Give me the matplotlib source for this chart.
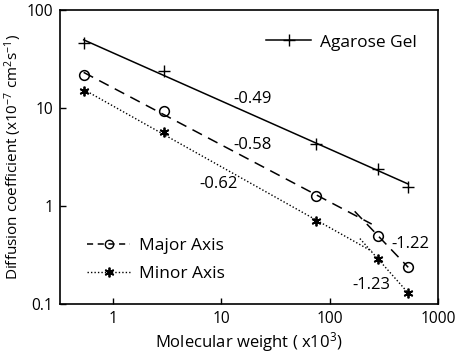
import numpy as np
import matplotlib
matplotlib.use("Agg")
import matplotlib.pyplot as plt
from matplotlib.ticker import FixedLocator, FixedFormatter, NullLocator

plt.rcParams['font.family'] = ['Open Sans', 'DejaVu Sans']
plt.rcParams['mathtext.fontset'] = 'custom'
plt.rcParams['mathtext.rm'] = 'Open Sans'
plt.rcParams['mathtext.default'] = 'regular'

# data
mw = [0.54, 3.0, 75, 280, 530]
agarose = [45.8, 23.6, 4.33, 2.4, 1.57]
major = [21.8, 9.24, 1.26, 0.494, 0.236]
minor = [14.8, 5.65, 0.703, 0.286, 0.129]

slope_labels = ["-0.49", "-0.58", "-0.62", "-1.22", "-1.23"]
label_x = [19.6, 19.6, 9.4, 560, 244]
label_y = [12.2, 4.14, 1.66, 0.407, 0.156]
xticks = [1, 10, 100, 1000]
yticks = [0.1, 1, 10, 100]


def fit_line(x, y, x0, x1):
    p = np.polyfit(np.log10(x), np.log10(y), 1)
    xs = np.array([x0, x1])
    return xs, 10 ** np.polyval(p, np.log10(xs))


fig = plt.figure(figsize=(4.55, 3.55), dpi=100)
ax = fig.add_axes([0.132, 0.144, 0.831, 0.828])
ax.set_xscale('log')
ax.set_yscale('log')

star = (6, 2, 0)  # asterisk marker

# agarose gel: single fit through all points
xs, ys = fit_line(mw, agarose, mw[0], mw[-1])
ax.plot(xs, ys, color='black', lw=1.1)
ax.plot(mw, agarose, ls='none', marker='+', ms=8, mew=1.0, color='black')

# major axis: two fitted segments
xs, ys = fit_line(mw[:3], major[:3], mw[0], 244)
ax.plot(xs, ys, color='black', lw=1.1, ls=(0, (7, 4.5)))
xs, ys = fit_line(mw[3:], major[3:], 170, mw[-1])
ax.plot(xs, ys, color='black', lw=1.1, ls=(0, (7, 4.5)))
ax.plot(mw, major, ls='none', marker='o', ms=7, mfc='none', mec='black', mew=1.1)

# minor axis: two fitted segments
xs, ys = fit_line(mw[:3], minor[:3], mw[0], 244)
ax.plot(xs, ys, color='black', lw=1.0, ls=(0, (1, 1.5)))
xs, ys = fit_line(mw[3:], minor[3:], 190, mw[-1])
ax.plot(xs, ys, color='black', lw=1.0, ls=(0, (1, 1.5)))
ax.plot(mw, minor, ls='none', marker=star, ms=7, mew=1.3, color='black')

# slope labels
for t, x, y in zip(slope_labels, label_x, label_y):
    ax.text(x, y, t, fontsize=12, ha='center', va='center')

# legends
h_ag, = ax.plot([], [], color='black', lw=1.1, marker='+', ms=8, mew=1.0)
h_maj, = ax.plot([], [], color='black', lw=1.1, ls=(0, (4, 3)), marker='o', ms=6,
                 mfc='none', mec='black')
h_min, = ax.plot([], [], color='black', lw=1.0, ls=(0, (1, 1.5)), marker=star,
                 ms=7, mew=1.3)
leg1 = ax.legend([h_ag], ['Agarose Gel'], loc='upper right', frameon=False,
                 fontsize=12.5, handlelength=2.6, handletextpad=0.5,
                 bbox_to_anchor=(0.985, 0.97))
ax.add_artist(leg1)
ax.legend([h_maj, h_min], ['Major Axis', 'Minor Axis'], loc='lower left',
          frameon=False, fontsize=12.5, handlelength=2.5, handletextpad=0.5,
          labelspacing=0.7, bbox_to_anchor=(0.03, 0.02))

ax.set_xlim(10 ** -0.485, 1000)
ax.set_ylim(0.1, 100)
ax.xaxis.set_major_locator(FixedLocator(xticks))
ax.xaxis.set_major_formatter(FixedFormatter([str(t) for t in xticks]))
ax.yaxis.set_major_locator(FixedLocator(yticks))
ax.yaxis.set_major_formatter(FixedFormatter([str(t) for t in yticks]))
ax.xaxis.set_minor_locator(NullLocator())
ax.yaxis.set_minor_locator(NullLocator())
ax.tick_params(direction='in', length=4, width=1, labelsize=11.2, pad=5)
for s in ax.spines.values():
    s.set_linewidth(1.2)

ax.set_xlabel('Molecular weight ( x10$^3$)', fontsize=12, labelpad=2)
ax.set_ylabel('Diffusion coefficient (x10$^{-7}$ cm$^2$s$^{-1}$)', fontsize=11, labelpad=2)

fig.savefig('out.png', dpi=100)
